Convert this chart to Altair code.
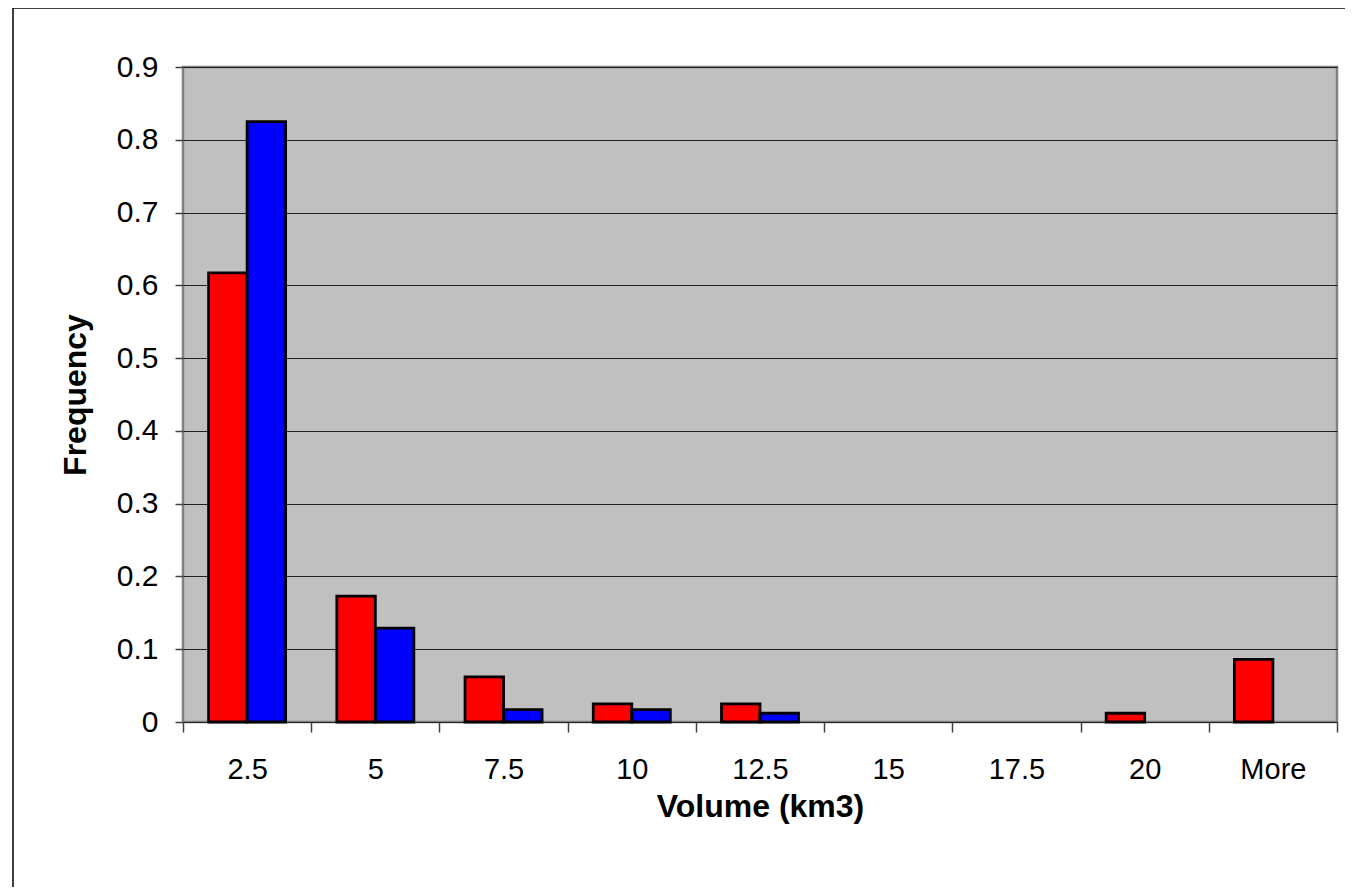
import altair as alt
import pandas as pd

categories = ["2.5", "5", "7.5", "10", "12.5", "15", "17.5", "20", "More"]
series_red = [0.617, 0.173, 0.062, 0.025, 0.025, 0.0, 0.0, 0.012, 0.086]
series_blue = [0.825, 0.129, 0.017, 0.017, 0.012, 0.0, 0.0, 0.0, 0.0]
y_ticks = [0, 0.1, 0.2, 0.3, 0.4, 0.5, 0.6, 0.7, 0.8, 0.9]

rows = []
for c, r, b in zip(categories, series_red, series_blue):
    rows.append({"bin": c, "series": "Series1", "value": r})
    rows.append({"bin": c, "series": "Series2", "value": b})
df = pd.DataFrame(rows)

bars = alt.Chart(df).transform_filter(
    alt.datum.value > 0
).mark_bar(stroke="black", strokeWidth=2.8).encode(
    x=alt.X("bin:N", sort=categories,
            scale=alt.Scale(domain=categories, paddingInner=0, paddingOuter=0),
            axis=alt.Axis(title="Volume (km3)", labelAngle=0, tickBand="extent",
                          domain=False, ticks=True, tickSize=10, tickColor="#404040",
                          tickWidth=1.5,
                          labelFont="Liberation Sans Narrow, Arial Narrow, Liberation Sans, Arial",
                          labelFontSize=29, labelColor="black", labelPadding=23,
                          titleFont="Liberation Sans, Arial", titleFontSize=32,
                          titleFontWeight="bold", titleColor="black",
                          titleY=84, titleBaseline="middle")),
    xOffset=alt.XOffset("series:N", sort=["Series1", "Series2"],
                        scale=alt.Scale(domain=["Series1", "Series2"],
                                        paddingInner=0, paddingOuter=0.665)),
    y=alt.Y("value:Q", scale=alt.Scale(domain=[0, 0.9], nice=False),
            axis=alt.Axis(title="Frequency", values=y_ticks, format="~g",
                          domain=False, tickSize=8, tickColor="#404040", tickWidth=1.5,
                          grid=True, gridColor="#222222", gridWidth=1,
                          labelFont="Liberation Sans, Arial", labelFontSize=30,
                          labelColor="black", labelPadding=17,
                          titleFont="Liberation Sans, Arial", titleFontSize=32,
                          titleFontWeight="bold", titleColor="black",
                          titleX=-108, titleBaseline="middle")),
    color=alt.Color("series:N", scale=alt.Scale(domain=["Series1", "Series2"],
                                                 range=["#FF0000", "#0000FF"]),
                    legend=None),
)

border = alt.Chart(alt.Data(values=[{"k": 1}])).mark_rect(
    fill="transparent", stroke="black", strokeWidth=1.5
).encode(
    x=alt.value(-170), x2=alt.value(1500), y=alt.value(-59), y2=alt.value(1100)
)

chart = alt.layer(border, bars).properties(
    width=1154, height=655,
    autosize=alt.AutoSizeParams(type="none"),
    padding={"left": 175, "top": 59, "right": 8, "bottom": 165},
    background="white",
).configure_view(
    fill="#C0C0C0", stroke="#808080", strokeWidth=2.5
)

chart.save("out.html", embed_options={"renderer": "svg", "actions": False})
